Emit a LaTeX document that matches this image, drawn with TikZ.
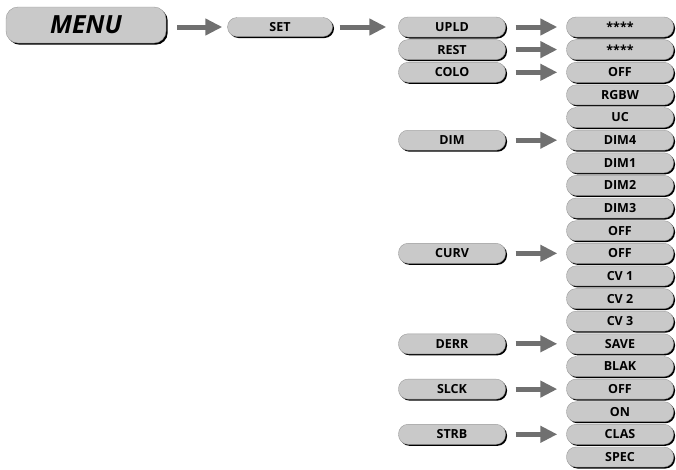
\documentclass[tikz,border=0pt]{standalone}
\usepackage{fontspec}
\setmainfont{Open Sans}
\usetikzlibrary{arrows.meta,shadows}

\tikzset{
  menubox/.style={draw=black!40, line width=0.4pt, fill=black!21, rounded corners=12pt,
    minimum width=160pt, minimum height=36pt, inner sep=0pt,
    drop shadow={shadow xshift=1.7pt, shadow yshift=-1.7pt, opacity=1, fill=black},
    font=\fontsize{25}{28}\selectfont\bfseries\itshape},
  subbox/.style={draw=black!40, line width=0.4pt, fill=black!21, rounded corners=9.5pt,
    minimum width=107pt, minimum height=20pt, inner sep=0pt,
    drop shadow={shadow xshift=1.5pt, shadow yshift=-1.5pt, opacity=1, fill=black},
    font=\fontsize{12.5}{14}\selectfont\bfseries},
  bigarrow/.style={line width=5pt, draw=black!56, -{Triangle[length=17pt,width=16pt]}},
}

\begin{document}
\begin{tikzpicture}[x=1pt,y=-1pt]
        \useasboundingbox (0,0) rectangle (676,469);
        \draw 
        (86,25) node[menubox] (menu) {MENU}
        (280,27) node[subbox, minimum width=105pt, minimum height=19pt] (set) {SET}
        (452,27.0) node[subbox] (upld) {UPLD}
        (452,49.6) node[subbox] (rest) {REST}
        (452,72.3) node[subbox] (colo) {COLO}
        (452,140.2) node[subbox] (dim) {DIM}
        (452,253.3) node[subbox] (curv) {CURV}
        (452,343.8) node[subbox] (derr) {DERR}
        (452,389.1) node[subbox] (slck) {SLCK}
        (452,434.3) node[subbox] (strb) {STRB}
        (620,27.0) node[subbox] (upldval) {****}
        (620,49.6) node[subbox] (restval) {****}
        (620,72.3) node[subbox] (colooff) {OFF}
        (620,94.9) node[subbox] (colorgbw) {RGBW}
        (620,117.5) node[subbox] (colouc) {UC}
        (620,140.2) node[subbox] (dim4) {DIM4}
        (620,162.8) node[subbox] (dim1) {DIM1}
        (620,185.4) node[subbox] (dim2) {DIM2}
        (620,208.0) node[subbox] (dim3) {DIM3}
        (620,230.7) node[subbox] (dimoff) {OFF}
        (620,253.3) node[subbox] (curvoff) {OFF}
        (620,275.9) node[subbox] (cv1) {CV 1}
        (620,298.6) node[subbox] (cv2) {CV 2}
        (620,321.2) node[subbox] (cv3) {CV 3}
        (620,343.8) node[subbox] (save) {SAVE}
        (620,366.5) node[subbox] (blak) {BLAK}
        (620,389.1) node[subbox] (slckoff) {OFF}
        (620,411.7) node[subbox] (slckon) {ON}
        (620,434.3) node[subbox] (clas) {CLAS}
        (620,457.0) node[subbox] (spec) {SPEC}
        ;
        \draw[bigarrow, shorten <=11pt, shorten >=5pt] (menu.east |- set.west) -- (set.west);
        \draw[bigarrow, shorten <=7pt, shorten >=12pt] (set.east) -- (upld.west);
        \draw[bigarrow, shorten <=10pt, shorten >=9pt] (upld.east) -- (upldval.west);
        \draw[bigarrow, shorten <=10pt, shorten >=9pt] (rest.east) -- (restval.west);
        \draw[bigarrow, shorten <=10pt, shorten >=9pt] (colo.east) -- (colooff.west);
        \draw[bigarrow, shorten <=10pt, shorten >=9pt] (dim.east) -- (dim4.west);
        \draw[bigarrow, shorten <=10pt, shorten >=9pt] (curv.east) -- (curvoff.west);
        \draw[bigarrow, shorten <=10pt, shorten >=9pt] (derr.east) -- (save.west);
        \draw[bigarrow, shorten <=10pt, shorten >=9pt] (slck.east) -- (slckoff.west);
        \draw[bigarrow, shorten <=10pt, shorten >=9pt] (strb.east) -- (clas.west);
    \end{tikzpicture}
\end{document}
